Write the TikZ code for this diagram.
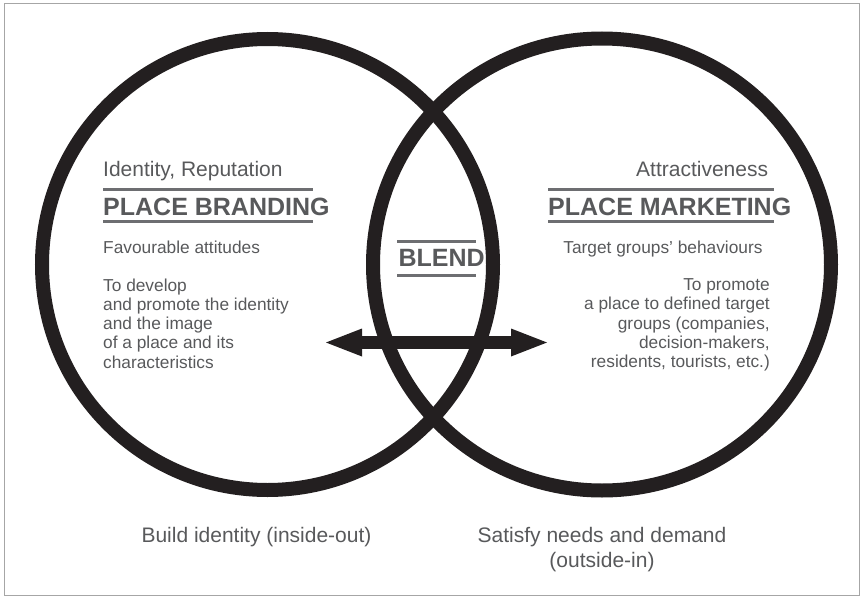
\documentclass[tikz,border=0pt]{standalone}
\usepackage{fontspec}
\setmainfont{Liberation Sans}
\usetikzlibrary{arrows.meta,shapes.geometric}
\definecolor{ink}{HTML}{231F20}
\definecolor{txt}{HTML}{58595B}
\definecolor{rulec}{HTML}{6D6E71}
\begin{document}
\begin{tikzpicture}[x=1pt,y=-1pt,
  ring/.style={draw=ink,line width=14pt,inner sep=0pt,outer sep=0pt},
  big/.style={font=\fontsize{21}{25.2}\selectfont,text=txt,inner sep=0pt},
  head/.style={font=\fontsize{25}{30}\bfseries\selectfont,text=txt,inner sep=0pt},
  body/.style={font=\fontsize{17.3}{19.2}\selectfont,text=txt,inner sep=0pt},
  bar/.style={draw=rulec,line width=3pt},
  frame/.style={draw=gray!70,line width=1pt},
  tipa/.style={Triangle[length=36pt,width=28pt,line width=0pt]}]
\useasboundingbox (0,0) rectangle (863,597);
\draw[frame] (4,3) rectangle (859,595);

% circles
\node[ring,circle,minimum size=451pt] (brand) at (267.5,264.5) {};
\node[ring,ellipse,minimum width=458pt,minimum height=452pt] (market) at (602,264.5) {};

% arrow
\coordinate (aL) at (326,342.5);
\coordinate (aR) at (547,342.5);
\draw[ink,line width=13pt,{Triangle[length=36pt,width=28pt,line width=0pt]}-{Triangle[length=36pt,width=28pt,line width=0pt]}] (aL) -- (aR);

% left block
\node[big,anchor=base west] (idrep) at (103,176.7) {Identity, Reputation};
\draw[bar] (103,189.3) -- (313,189.3);
\node[head,anchor=base west] (pb) at (103,215) {PLACE BRANDING};
\draw[bar] (103,221.7) -- (313,221.7);
\node[body,anchor=base west] (fav) at (103,253) {Favourable attitudes};
\node[body,anchor=north west,align=left] (lbody) at (103,278.5) {To develop\\and promote the identity\\and the image\\of a place and its\\characteristics};

% right block
\node[big,anchor=base east] (attr) at (768.3,176.7) {Attractiveness};
\draw[bar] (548,189.3) -- (774,189.3);
\node[head,anchor=base west] (pm) at (548,215) {PLACE MARKETING};
\draw[bar] (548,221.7) -- (774,221.7);
\node[body,anchor=base east] (tgb) at (762.7,253.3) {Target groups’ behaviours};
\node[body,anchor=north east,align=right] (rbody) at (770,278.6) {To promote\\a place to defined target\\groups (companies,\\decision-makers,\\residents, tourists, etc.)};

% blend
\draw[bar] (397.3,241.7) -- (476,241.7);
\node[head,anchor=base west] (blend) at (398.3,266) {BLEND};
\draw[bar] (397.3,275) -- (476,275);

% bottom
\node[big,anchor=base] (build) at (256.5,542.6) {Build identity (inside-out)};
\node[big,anchor=north,align=center] (satisfy) at (602,527.3) {Satisfy needs and demand\\(outside-in)};
\end{tikzpicture}
\end{document}
